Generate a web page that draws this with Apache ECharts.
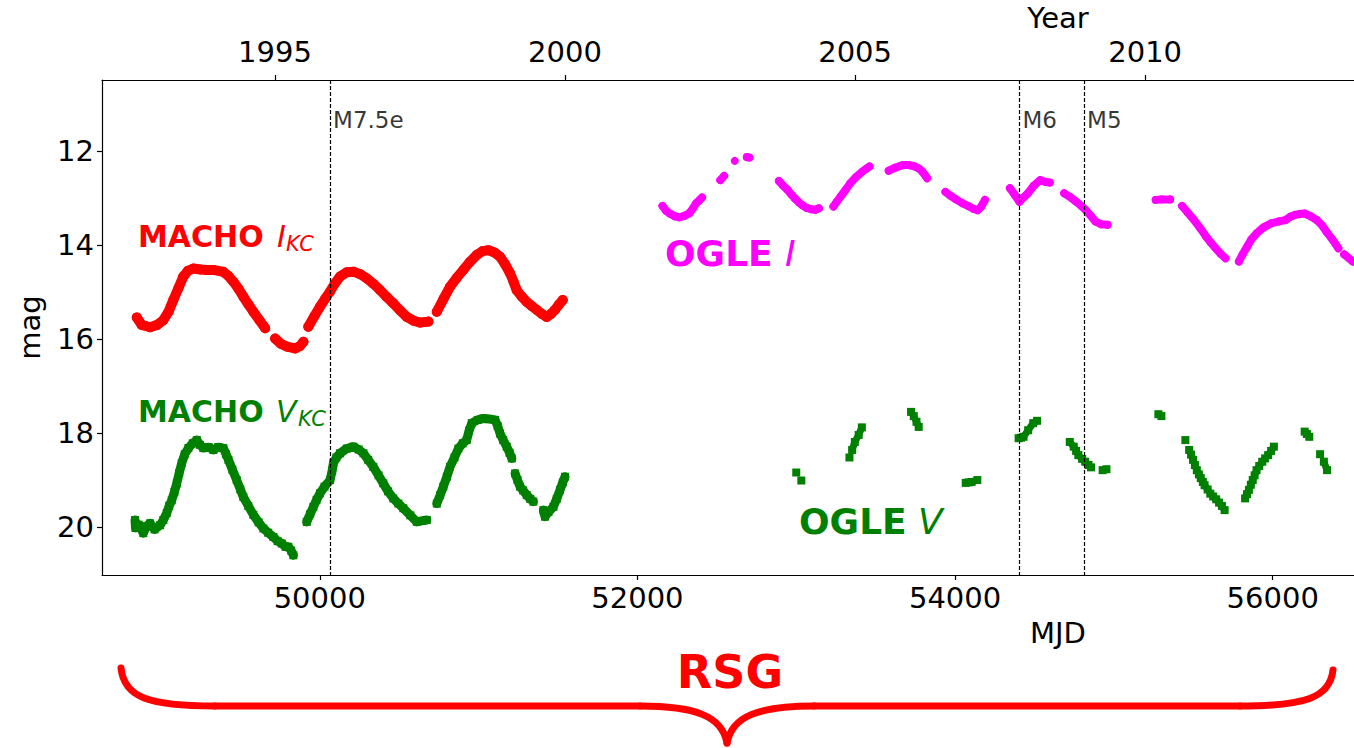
<!DOCTYPE html>
<html>
<head>
<meta charset="utf-8">
<title>Light curve: MACHO and OGLE photometry</title>
<script src="https://cdn.jsdelivr.net/npm/echarts@6/dist/echarts.min.js"></script>
<style>
  html, body { margin: 0; padding: 0; background: #fff; }
  #chart { width: 1354px; height: 748px; }
</style>
</head>
<body>
<div id="chart"></div>
<script>
// ---- Photometry: [MJD, magnitude]; null marks a gap in the coverage ----
const machoI = [
  [48848,15.54],[48879,15.70],[48932,15.75],[48975,15.70],[49015,15.60],[49048,15.42],[49078,15.17],
  [49110,14.92],[49141,14.67],[49170,14.55],[49204,14.50],[49250,14.52],[49289,14.53],[49330,14.53],
  [49393,14.57],[49425,14.66],[49456,14.78],[49490,14.94],[49519,15.10],[49550,15.26],[49582,15.42],
  [49620,15.60],[49656,15.77], null,
  [49719,15.99],[49755,16.10],[49792,16.16],[49845,16.20],[49875,16.15],[49897,16.06], null,
  [49928,15.74],[49965,15.52],[50002,15.31],[50035,15.14],[50065,14.99],[50095,14.82],[50128,14.67],
  [50170,14.58],[50212,14.57],[50255,14.62],[50296,14.71],[50340,14.83],[50380,14.96],[50420,15.10],
  [50463,15.24],[50505,15.39],[50548,15.53],[50590,15.61],[50631,15.65],[50684,15.63], null,
  [50737,15.42],[50780,15.14],[50820,14.89],[50862,14.70],[50904,14.53],[50945,14.36],[50989,14.21],
  [51025,14.13],[51062,14.11],[51100,14.16],[51135,14.25],[51165,14.40],[51198,14.60],[51220,14.78],
  [51240,14.96],[51270,15.09],[51303,15.21],[51335,15.30],[51366,15.38],[51400,15.47],[51429,15.53],
  [51455,15.47],[51481,15.38],[51505,15.27],[51530,15.17]
];

const machoV = [
  [48837,19.85],[48840,20.02],[48860,19.95],[48889,20.13],[48910,19.98],[48932,19.92],[48960,20.05],
  [48995,19.96],[49015,19.85],[49037,19.70],[49052,19.55],[49068,19.43],[49085,19.25],[49100,19.07],
  [49115,18.85],[49131,18.64],[49150,18.45],[49173,18.32],[49200,18.22],[49226,18.15],[49245,18.25],
  [49267,18.32],[49300,18.30],[49330,18.36],[49360,18.30],[49393,18.32],[49410,18.45],[49425,18.57],
  [49450,18.78],[49477,19.00],[49500,19.20],[49519,19.36],[49550,19.55],[49582,19.74],[49615,19.90],
  [49645,20.03],[49675,20.12],[49708,20.21],[49735,20.30],[49761,20.35],[49785,20.42],[49802,20.42],
  [49820,20.50],[49834,20.60], null,
  [49918,19.89],[49940,19.72],[49960,19.57],[49980,19.42],[50002,19.28],[50030,19.14],[50065,19.00],
  [50078,18.80],[50086,18.64],[50105,18.52],[50128,18.43],[50170,18.33],[50212,18.29],[50245,18.35],
  [50275,18.43],[50305,18.57],[50337,18.72],[50370,18.90],[50400,19.07],[50430,19.24],[50463,19.39],
  [50495,19.50],[50526,19.60],[50570,19.75],[50611,19.89],[50640,19.87],[50674,19.85], null,
  [50737,19.50],[50758,19.32],[50778,19.14],[50800,18.93],[50820,18.72],[50848,18.52],[50873,18.33],
  [50900,18.22],[50925,18.15],[50940,17.95],[50957,17.79],[50995,17.72],[51030,17.69],[51065,17.70],
  [51104,17.72],[51120,17.85],[51135,18.01],[51155,18.15],[51177,18.29],[51195,18.42],[51209,18.54], null,
  [51230,18.86],[51245,19.00],[51261,19.14],[51280,19.22],[51303,19.32],[51325,19.40],[51345,19.46], null,
  [51408,19.64],[51418,19.78],[51440,19.68],[51471,19.57],[51492,19.40],[51513,19.21],[51530,19.05],
  [51544,18.93]
];

const ogleI = [
  [52158,13.17],[52180,13.27],[52204,13.33],[52235,13.39],[52265,13.41],[52295,13.38],[52325,13.33],
  [52350,13.22],[52370,13.11],[52390,13.05],[52407,12.99], null,
  [52522,12.62],[52546,12.53], null,
  [52613,12.21], null,
  [52689,12.13],[52705,12.14], null,
  [52891,12.64],[52915,12.73],[52946,12.83],[52970,12.93],[52991,13.01],[53015,13.09],[53037,13.15],
  [53065,13.21],[53097,13.24],[53120,13.25],[53143,13.22], null,
  [53234,13.18],[53255,13.08],[53279,12.97],[53310,12.83],[53339,12.69],[53375,12.56],[53415,12.44],
  [53440,12.38],[53461,12.33], null,
  [53582,12.42],[53620,12.36],[53672,12.30],[53710,12.30],[53748,12.33],[53775,12.38],[53794,12.44],
  [53810,12.51],[53824,12.58], null,
  [53939,12.87],[53970,12.95],[54006,13.03],[54045,13.11],[54082,13.17],[54115,13.23],[54142,13.26],
  [54165,13.18],[54188,13.04], null,
  [54345,12.79],[54375,12.93],[54405,13.08],[54430,12.99],[54459,12.90],[54495,12.74],[54536,12.62],
  [54570,12.66],[54596,12.67], null,
  [54687,12.90],[54725,12.98],[54763,13.08],[54795,13.17],[54823,13.26],[54855,13.38],[54884,13.50],
  [54920,13.56],[54960,13.57], null,
  [55263,13.04],[55300,13.03],[55354,13.03], null,
  [55429,13.17],[55465,13.31],[55505,13.47],[55545,13.65],[55580,13.82],[55610,13.95],[55641,14.07],
  [55670,14.18],[55702,14.28], null,
  [55787,14.35],[55810,14.20],[55838,14.04],[55865,13.88],[55899,13.75],[55940,13.63],[55990,13.54],
  [56035,13.50],[56080,13.47],[56110,13.40],[56140,13.36],[56170,13.34],[56201,13.33],[56240,13.39],
  [56277,13.47],[56310,13.58],[56338,13.72],[56375,13.88],[56413,14.07], null,
  [56450,14.20],[56504,14.35]
];

const ogleV = [
  [53000,18.84], null, [53032,19.01], null,
  [53335,18.52], null,
  [53352,18.36],[53369,18.19],[53393,18.04],[53413,17.88], null,
  [53723,17.55],[53740,17.64],[53757,17.76],[53771,17.87], null,
  [54067,19.06],[54085,19.05],[54104,19.04],[54140,19.00], null,
  [54400,18.11],[54415,18.10],[54431,18.08],[54460,17.94],[54492,17.79],[54516,17.74], null,
  [54722,18.19],[54747,18.29],[54762,18.38],[54776,18.47],[54800,18.55],[54819,18.61],[54840,18.68],
  [54856,18.73], null,
  [54929,18.79],[54953,18.77], null,
  [55280,17.60],[55299,17.64], null,
  [55450,18.15], null,
  [55474,18.36],[55486,18.46],[55498,18.57],[55510,18.68],[55522,18.79],[55535,18.88],[55547,18.96],
  [55560,19.04],[55571,19.11],[55590,19.20],[55607,19.29],[55625,19.35],[55644,19.41],[55662,19.48],
  [55680,19.55],[55697,19.64], null,
  [55826,19.39],[55838,19.30],[55850,19.21],[55862,19.10],[55874,19.00],[55886,18.90],[55898,18.79],
  [55915,18.70],[55934,18.61],[55952,18.54],[55971,18.47],[55990,18.38],[56007,18.29], null,
  [56201,17.97],[56215,18.02],[56230,18.08], null,
  [56298,18.45], null,
  [56322,18.61],[56342,18.79]
];

// Spectral classifications and their epochs
const spectralMjd = [50065, 54405, 54812];
const spectralType = ['M7.5e', 'M6', 'M5'];
const spectralLabelMag = 11.34;

// Axis ticks
const mjdTicks = [50000, 52000, 54000, 56000];
const yearTicks = [1995, 2000, 2005, 2010];
const magTicks = [12, 14, 16, 18, 20];

// Axis extents (the plot runs on past the right edge of the page)
const mjdMin = 48629, mjdMax = 60667;
const magMin = 10.49, magMax = 21.02;

// MJD 49718 is 1995 January 1.0
const mjdToYear = m => 1995 + (m - 49718) / 365.25;

const FONT = 'DejaVu Sans';
const RED = '#ff0000', GREEN = '#008000', MAGENTA = '#ff00ff';

const toSeriesData = arr => arr.map(p => (p === null ? ['-', '-'] : p));

function curve(name, data, color, symbol, size, width) {
  return {
    name, type: 'line', xAxisIndex: 0, yAxisIndex: 0,
    data: toSeriesData(data),
    connectNulls: false,
    symbol, symbolSize: size, showSymbol: true,
    itemStyle: { color },
    lineStyle: { color, width, cap: 'round', join: 'round' },
    emphasis: { disabled: true },
    silent: true, z: 3
  };
}

const chart = echarts.init(document.getElementById('chart'), null, { renderer: 'svg' });

const tickLabel = { fontFamily: FONT, fontSize: 29, color: '#000', formatter: v => String(Math.round(v)) };
const axisName = { fontFamily: FONT, fontSize: 29, color: '#000' };
const spine = { show: true, onZero: false, lineStyle: { color: '#000', width: 1.2 } };
const tickStyle = { color: '#000', width: 1.2 };

// Brace drawn from two mirrored halves
const braceStroke = { stroke: RED, lineWidth: 7, fill: null, lineCap: 'round' };
const brace = [
  { type: 'bezierCurve', shape: { x1: 121, y1: 668, cpx1: 124, cpy1: 698, cpx2: 150, cpy2: 706, x2: 215, y2: 706 } },
  { type: 'line', shape: { x1: 215, y1: 706, x2: 640, y2: 706 } },
  { type: 'bezierCurve', shape: { x1: 640, y1: 706, cpx1: 695, cpy1: 706, cpx2: 722, cpy2: 716, x2: 727, y2: 743 } },
  { type: 'bezierCurve', shape: { x1: 727, y1: 743, cpx1: 732, cpy1: 716, cpx2: 759, cpy2: 706, x2: 814, y2: 706 } },
  { type: 'line', shape: { x1: 814, y1: 706, x2: 1240, y2: 706 } },
  { type: 'bezierCurve', shape: { x1: 1240, y1: 706, cpx1: 1305, cpy1: 706, cpx2: 1330, cpy2: 698, x2: 1333, y2: 670 } }
].map(el => Object.assign(el, { silent: true, style: braceStroke }));

chart.setOption({
  animation: false,
  backgroundColor: '#fff',
  grid: { left: 102, top: 80, width: 1912, height: 495, show: false, outerBoundsMode: 'none', containLabel: false },
  xAxis: [
    {
      type: 'value', position: 'bottom', min: mjdMin, max: mjdMax,
      name: 'MJD', nameLocation: 'middle', nameGap: 43, nameTextStyle: axisName,
      axisLine: spine,
      axisTick: { show: true, inside: false, length: 5, customValues: mjdTicks, lineStyle: tickStyle },
      axisLabel: { ...tickLabel, margin: 8, customValues: mjdTicks },
      splitLine: { show: false }
    },
    {
      type: 'value', position: 'top', min: mjdToYear(mjdMin), max: mjdToYear(mjdMax),
      name: 'Year', nameLocation: 'middle', nameGap: 46, nameTextStyle: axisName,
      axisLine: spine,
      axisTick: { show: true, inside: false, length: 5, customValues: yearTicks, lineStyle: tickStyle },
      axisLabel: { ...tickLabel, margin: 14, customValues: yearTicks },
      splitLine: { show: false }
    }
  ],
  yAxis: {
    type: 'value', inverse: true, min: magMin, max: magMax,
    name: 'mag', nameLocation: 'middle', nameGap: 58, nameRotate: 90, nameTextStyle: axisName,
    axisLine: spine,
    axisTick: { show: true, inside: false, length: 5, customValues: magTicks, lineStyle: tickStyle },
    axisLabel: { ...tickLabel, margin: 8, customValues: magTicks },
    splitLine: { show: false }
  },
  series: [
    curve('MACHO I', machoI, RED, 'circle', 10, 10),
    curve('MACHO V', machoV, GREEN, 'rect', 8, 9),
    curve('OGLE I', ogleI, MAGENTA, 'circle', 8, 8),
    curve('OGLE V', ogleV, GREEN, 'rect', 8, 7),
    {
      name: 'spectral type', type: 'scatter', xAxisIndex: 0, yAxisIndex: 0,
      data: spectralMjd.map((m, i) => [m, spectralLabelMag, spectralType[i]]),
      symbolSize: 0, silent: true, z: 4,
      label: {
        show: true, position: 'right', distance: 3,
        formatter: p => p.value[2],
        fontFamily: FONT, fontSize: 23, color: '#000'
      },
      markLine: {
        silent: true, symbol: ['none', 'none'], animation: false,
        label: { show: false },
        lineStyle: { color: '#000', width: 1.2, type: [4, 2] },
        data: spectralMjd.map(m => ({ xAxis: m }))
      }
    }
  ],
  graphic: [
    // series labels
    { type: 'text', x: 138, y: 236, style: { text: 'MACHO', fill: RED, fontFamily: FONT, fontWeight: 'bold', fontSize: 30, verticalAlign: 'middle' } },
    { type: 'text', x: 277, y: 236, style: { text: 'I', fill: RED, fontFamily: FONT, fontStyle: 'italic', fontSize: 30, verticalAlign: 'middle' } },
    { type: 'text', x: 286, y: 244, style: { text: 'KC', fill: RED, fontFamily: FONT, fontStyle: 'italic', fontSize: 21, verticalAlign: 'middle' } },

    { type: 'text', x: 138, y: 411, style: { text: 'MACHO', fill: GREEN, fontFamily: FONT, fontWeight: 'bold', fontSize: 30, verticalAlign: 'middle' } },
    { type: 'text', x: 276, y: 411, style: { text: 'V', fill: GREEN, fontFamily: FONT, fontStyle: 'italic', fontSize: 30, verticalAlign: 'middle' } },
    { type: 'text', x: 298, y: 419, style: { text: 'KC', fill: GREEN, fontFamily: FONT, fontStyle: 'italic', fontSize: 21, verticalAlign: 'middle' } },

    { type: 'text', x: 665, y: 253, style: { text: 'OGLE', fill: MAGENTA, fontFamily: FONT, fontWeight: 'bold', fontSize: 36, verticalAlign: 'middle' } },
    { type: 'text', x: 785, y: 253, style: { text: 'I', fill: MAGENTA, fontFamily: FONT, fontStyle: 'italic', fontSize: 36, verticalAlign: 'middle' } },

    { type: 'text', x: 799, y: 521, style: { text: 'OGLE', fill: GREEN, fontFamily: FONT, fontWeight: 'bold', fontSize: 36, verticalAlign: 'middle' } },
    { type: 'text', x: 918, y: 521, style: { text: 'V', fill: GREEN, fontFamily: FONT, fontStyle: 'italic', fontSize: 36, verticalAlign: 'middle' } },

    // the RSG phase brace beneath the axis
    ...brace,
    { type: 'text', x: 730, y: 672, style: { text: 'RSG', fill: RED, fontFamily: FONT, fontWeight: 'bold', fontSize: 46, align: 'center', verticalAlign: 'middle' } }
  ]
});
</script>
</body>
</html>
